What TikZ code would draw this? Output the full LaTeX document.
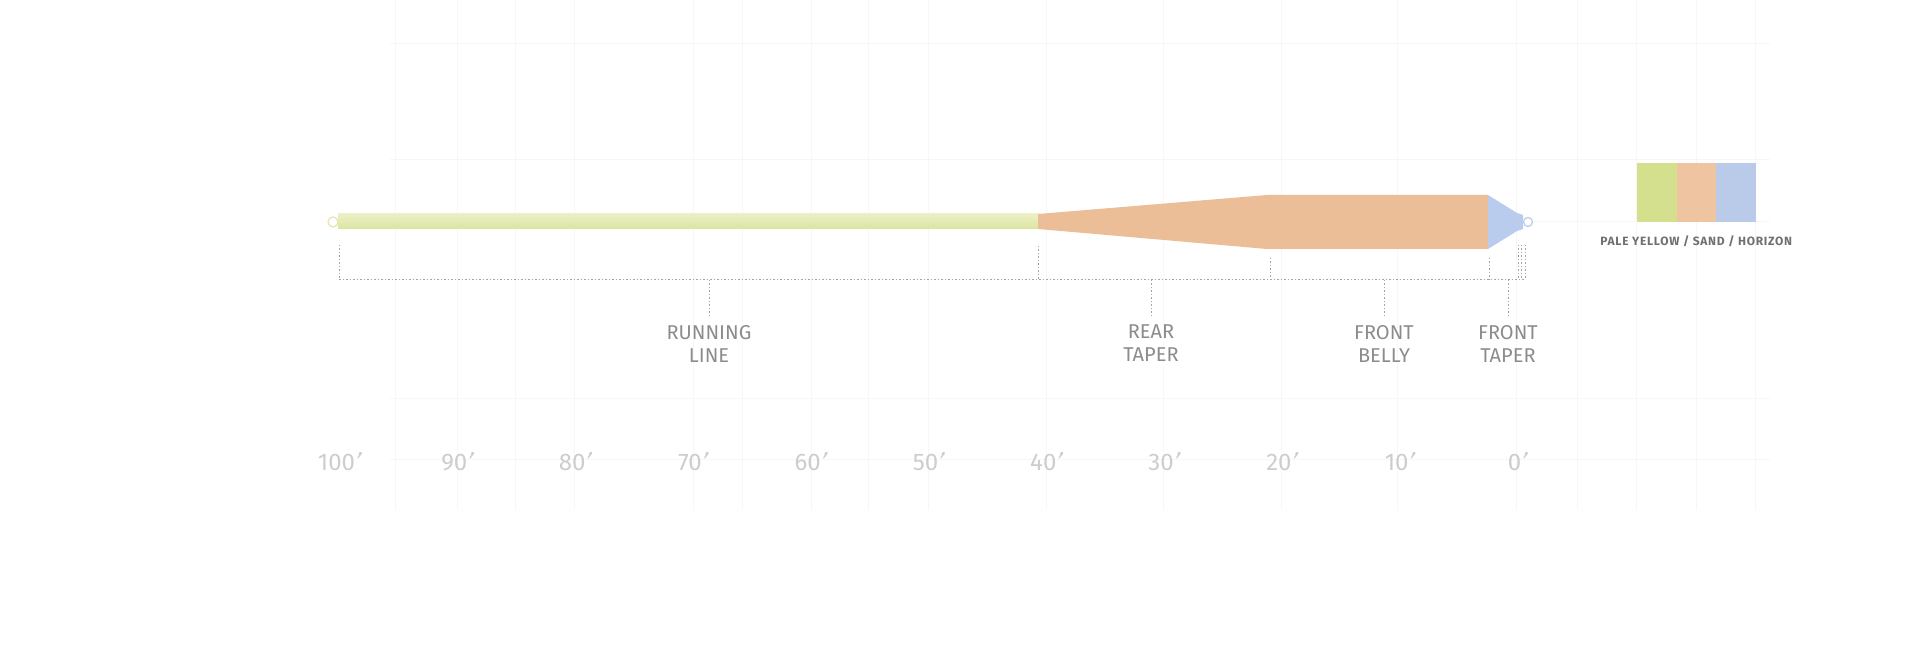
\documentclass[tikz,border=0pt]{standalone}
\usepackage{fontspec}
\setmainfont{Fira Sans}
\usetikzlibrary{positioning}
\definecolor{paleY}{RGB}{219,229,158}
\definecolor{paleYlt}{RGB}{235,240,198}
\definecolor{sandC}{RGB}{235,190,152}
\definecolor{sandLt}{RGB}{248,224,204}
\definecolor{horizC}{RGB}{186,204,238}
\definecolor{horizLt}{RGB}{214,226,247}
\definecolor{loopY}{RGB}{236,224,175}
\definecolor{swG}{RGB}{212,224,142}
\definecolor{swS}{RGB}{238,197,160}
\definecolor{swB}{RGB}{185,203,232}
\definecolor{tickG}{RGB}{165,165,165}
\definecolor{labG}{RGB}{140,140,140}
\definecolor{swLab}{RGB}{112,112,112}
\definecolor{scaleG}{RGB}{205,205,205}
\definecolor{gridG}{RGB}{247,247,247}

\newcommand{\ftmark}{\kern-2.5pt{\addfontfeature{FakeSlant=0.3}\symbol{"27}}}

\tikzset{
  dotline/.style={tickG, line width=1pt, dash pattern=on 1.5pt off 2pt},
  seglabel/.style={labG, align=center, anchor=north, inner xsep=0pt, inner ysep=8pt,
    font=\fontsize{20}{23}\selectfont},
  scalelabel/.style={scaleG, font=\fontsize{24}{24}\selectfont},
  swatch/.style={minimum width=39.5pt, minimum height=59pt, inner sep=0pt, outer sep=0pt},
  gridline/.style={gridG, line width=1pt}
}

\begin{document}
\begin{tikzpicture}[x=1pt,y=-1pt]
  \useasboundingbox (0,0) rectangle (1920,660);
  % 1 unit = 1 px of the 1920x660 frame, y grows downwards

  % faint background grid
  \foreach \gx in {395,457,515,574,693,742,811,868,928,1046,1163,1281,1397,1516,1577,1636,1696,1755}
    \draw[gridline] (\gx,0) -- (\gx,510);
  \foreach \gy in {44,160,398,459}
    \draw[gridline] (390,\gy) -- (1770,\gy);
  \draw[gridline] (1532,222) -- (1770,222);

  % the line: running line, rear taper + belly, front taper
  \shade[top color=paleYlt, bottom color=paleY] (338,214) rectangle (1039,229);
  \shade[top color=sandC, middle color=sandLt, bottom color=sandC]
    (1038,214) -- (1267,195) -- (1488,195) -- (1488,249) -- (1267,249) -- (1038,229) -- cycle;
  \shade[top color=horizC, middle color=horizLt, bottom color=horizC]
    (1488,195) -- (1517,213) -- (1523,215) -- (1523,229) -- (1517,231) -- (1488,249) -- cycle;
  \draw[loopY, line width=1.2pt] (333,222) circle (5);
  \draw[horizC, line width=1.2pt] (1528,222) circle (4.5);

  % section bracket
  \foreach \n/\tx/\ty in {0/339/245, 1/1038/246, 2/1270/258, 3/1489/258, 4/1518/245, 5/1521.5/245, 6/1525/245} {
    \coordinate (t\n) at (\tx,\ty);
    \coordinate (b\n) at (\tx,280);
    \draw[dotline] (t\n) -- (b\n);
  }
  \draw[dotline] (b0) -- (b6);

  % section labels
  \node[seglabel] (running) at (709,317) {RUNNING\\LINE};
  \node[seglabel] (rear) at (1151,317) {REAR\\TAPER};
  \node[seglabel] (belly) at (1384,317) {FRONT\\BELLY};
  \node[seglabel] (ftaper) at (1508,317) {FRONT\\TAPER};
  \foreach \lab in {running,rear,belly,ftaper}
    \draw[dotline] (\lab.north |- b0) -- (\lab.north);

  % length scale
  \foreach \i in {0,...,10} {
    \pgfmathsetmacro{\sx}{338+117.8*\i}
    \pgfmathtruncatemacro{\ft}{100-10*\i}
    \node[scalelabel] (s\i) at (\sx,462) {\ft\ftmark};
  }

  % colour swatch
  \node[swatch, fill=swG, anchor=north west] (swatchG) at (1637,163) {};
  \node[swatch, fill=swS, right=0pt of swatchG] (swatchS) {};
  \node[swatch, fill=swB, right=0pt of swatchS] (swatchB) {};
  \node[swLab, anchor=base, inner sep=0pt,
        font=\fontsize{12}{13}\selectfont\bfseries\addfontfeature{LetterSpace=6}]
    (swatchlab) at ([yshift=-24pt]swatchS.south) {PALE YELLOW / SAND / HORIZON};
\end{tikzpicture}
\end{document}
